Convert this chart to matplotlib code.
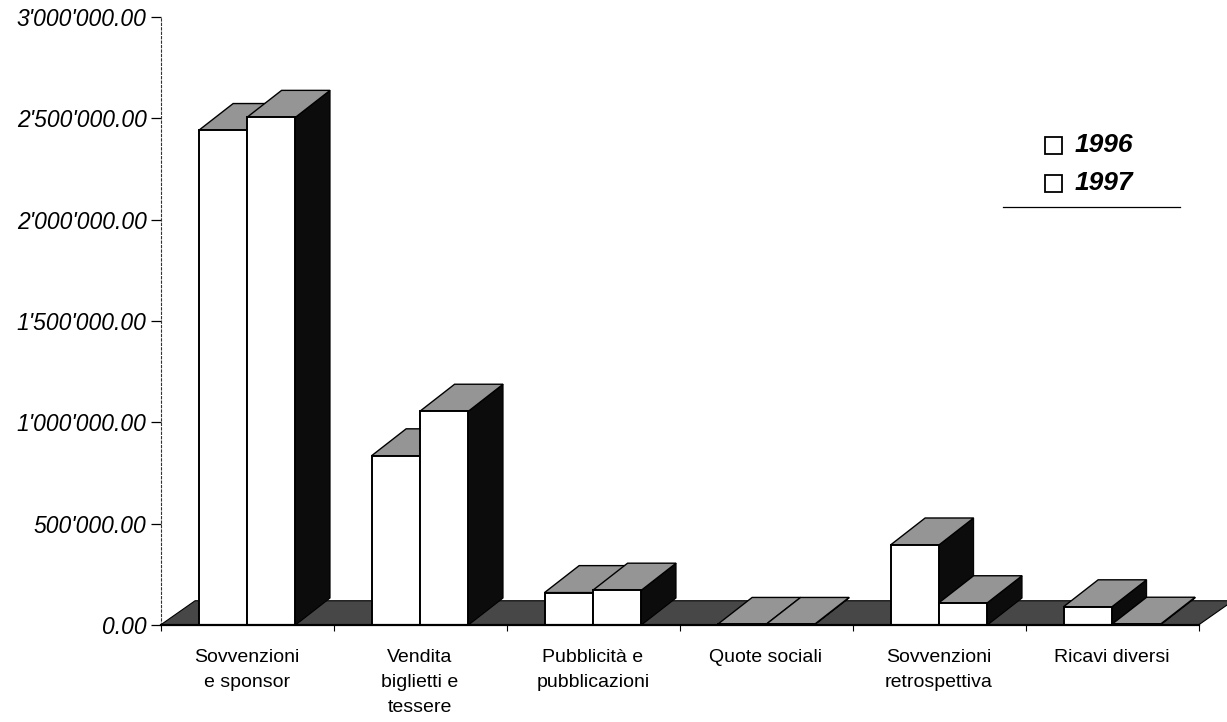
import numpy as np
import matplotlib
matplotlib.use('Agg')
import matplotlib.pyplot as plt
from matplotlib.patches import Polygon, Rectangle
from matplotlib.ticker import FuncFormatter

categories = ['Sovvenzioni\ne sponsor', 'Vendita\nbiglietti e\ntessere',
              'Pubblicità e\npubblicazioni', 'Quote sociali',
              'Sovvenzioni\nretrospettiva', 'Ricavi diversi']
years = ['1996', '1997']
val_1996 = [2440000, 835000, 160000, 3000, 395000, 90000]
val_1997 = [2505000, 1055000, 172000, 3000, 110000, 4000]
y_ticks = [0, 500000, 1000000, 1500000, 2000000, 2500000, 3000000]

plt.rcParams['font.family'] = ['Liberation Sans', 'DejaVu Sans']

fig = plt.figure(figsize=(12.27, 7.22), dpi=100)
ax = fig.add_axes([160.5 / 1227, 97 / 722, 1038 / 1227, 608 / 722])
ax.set_xlim(-0.5, 5.5)
ax.set_ylim(0, 3000000)

# fake 3d depth (data units)
dx = 0.20
dy = 133000
w = 0.28

floor_col = '#474747'
top_col = '#959595'
side_col = '#0c0c0c'

# floor
ax.add_patch(Polygon([(-0.5, 0), (-0.5 + dx, dy * 0.9), (5.5 + dx, dy * 0.9), (5.5, 0)],
                     closed=True, facecolor=floor_col, edgecolor='black', lw=0.8,
                     clip_on=False, zorder=1))

x = np.arange(len(categories))
series = [val_1996, val_1997]
for i in range(len(categories)):
    for j, vals in enumerate(series):
        x0 = x[i] - w + j * w
        x1 = x0 + w
        h = vals[i]
        side = Polygon([(x1, 0), (x1 + dx, dy), (x1 + dx, h + dy), (x1, h)], closed=True,
                       facecolor=side_col, edgecolor='black', lw=0.8, clip_on=False, zorder=2 + i * 4 + j * 2)
        top = Polygon([(x0, h), (x0 + dx, h + dy), (x1 + dx, h + dy), (x1, h)], closed=True,
                      facecolor=top_col, edgecolor='black', lw=1.0, clip_on=False, zorder=2 + i * 4 + j * 2)
        ax.add_patch(side)
        ax.add_patch(top)
        ax.bar(x0, h, width=w, align='edge', color='white', edgecolor='black', lw=1.4,
               zorder=3 + i * 4 + j * 2, clip_on=False)

# axes styling
for s in ['top', 'right']:
    ax.spines[s].set_visible(False)
ax.spines['left'].set_linestyle((0, (2, 2)))
ax.spines['left'].set_linewidth(0.8)
ax.spines['left'].set_color('#333333')
ax.spines['bottom'].set_linewidth(1.6)
ax.spines['bottom'].set_zorder(50)

ax.set_yticks(y_ticks)
ax.yaxis.set_major_formatter(FuncFormatter(lambda v, p: f"{v:,.2f}".replace(',', "'")))
ax.tick_params(axis='y', length=7, width=0.9, pad=3, labelsize=16.5)
for lab in ax.get_yticklabels():
    lab.set_fontstyle('italic')

ax.set_xticks(x)
ax.set_xticklabels(categories, fontsize=14, linespacing=1.62)
ax.tick_params(axis='x', which='major', length=0, pad=17)
ax.set_xticks(np.arange(-0.5, 6.0, 1.0), minor=True)
ax.tick_params(axis='x', which='minor', length=4, width=0.8, direction='out')

# legend
for k, yr in enumerate(years):
    yy = 1 - (145 + 38 * k) / 722
    fig.patches.append(Rectangle((1045 / 1227, yy - 8.5 / 722), 17 / 1227, 17 / 722,
                                 transform=fig.transFigure, facecolor='white',
                                 edgecolor='black', lw=1.3))
    fig.text(1075 / 1227, yy, yr, fontsize=19, fontweight='bold', fontstyle='italic',
             va='center', ha='left')
fig.add_artist(plt.Line2D([1003 / 1227, 1180 / 1227], [1 - 207 / 722] * 2,
                          transform=fig.transFigure, color='black', lw=0.9))

fig.savefig('out.png', dpi=100)
